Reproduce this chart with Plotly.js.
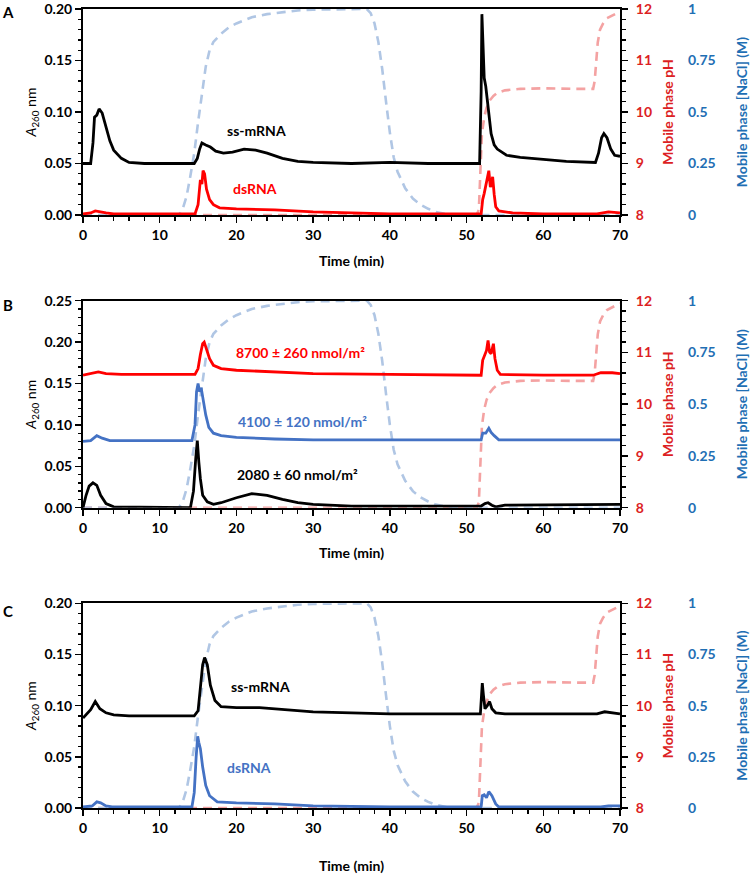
<!DOCTYPE html>
<html><head><meta charset="utf-8">
<script src="https://cdn.plot.ly/plotly-3.0.1.min.js"></script>
<style>body{margin:0;padding:0;background:#fff}#chart{width:750px;height:874px}</style>
</head><body><div id="chart"></div>
<script>
// ---- gradient programs (shared by the three runs) ----
const naclTime = [0, 12.5, 13.0, 13.5, 14.0, 14.5, 15.0, 15.5, 16.0, 16.5, 17.0, 18.0, 19.0, 20.0, 22.0, 24.0, 26.0, 28.0, 30.0, 34.0, 37.0, 37.5, 38.0, 38.5, 39.0, 39.5, 40.0, 40.5, 41.0, 42.0, 43.0, 44.0, 45.0, 46.0, 47.0, 48.0, 70];
const naclConc = [0, 0, 0.03, 0.09, 0.19, 0.30, 0.45, 0.58, 0.72, 0.80, 0.84, 0.88, 0.91, 0.93, 0.96, 0.975, 0.985, 0.993, 0.997, 1.0, 1.0, 0.98, 0.93, 0.84, 0.71, 0.55, 0.40, 0.28, 0.21, 0.13, 0.08, 0.05, 0.03, 0.015, 0.006, 0.0, 0.0];
const phTime = [0, 51.3, 51.6, 51.8, 52.0, 52.3, 52.6, 53.0, 53.5, 54.0, 55.0, 57.0, 60.0, 64.0, 66.5, 66.7, 66.9, 67.1, 67.4, 67.8, 68.3, 69.0, 70.0];
const phValue = [8, 8, 8.1, 8.8, 9.58, 9.9, 10.08, 10.22, 10.31, 10.37, 10.42, 10.45, 10.46, 10.45, 10.45, 10.6, 11.0, 11.35, 11.6, 11.72, 11.82, 11.88, 11.95];

// ---- Panel A ----
const aSsTime = [0, 1.0, 1.3, 1.5, 1.8, 2.1, 2.5, 3.0, 3.5, 4.0, 5.0, 6.0, 8.0, 14.5, 14.9, 15.2, 15.5, 16.0, 16.6, 17.3, 18.3, 19.5, 21.0, 22.5, 24.0, 26.0, 28.0, 30.0, 35.0, 40.0, 45.0, 51.7, 51.9, 52.0, 52.15, 52.3, 52.5, 52.8, 53.2, 53.6, 54.0, 55.2, 57.0, 60.0, 63.0, 66.8, 67.2, 67.6, 67.9, 68.3, 68.8, 69.3, 70.0];
const aSsA260 = [0.050, 0.050, 0.070, 0.095, 0.097, 0.103, 0.099, 0.085, 0.072, 0.063, 0.055, 0.051, 0.050, 0.050, 0.055, 0.064, 0.070, 0.068, 0.066, 0.062, 0.060, 0.061, 0.064, 0.063, 0.060, 0.055, 0.052, 0.051, 0.050, 0.051, 0.050, 0.050, 0.120, 0.195, 0.160, 0.133, 0.125, 0.107, 0.079, 0.068, 0.064, 0.058, 0.056, 0.054, 0.052, 0.051, 0.060, 0.075, 0.079, 0.075, 0.064, 0.058, 0.057];
const aDsTime = [0, 1.0, 1.6, 2.2, 3.0, 4.0, 14.6, 15.0, 15.3, 15.5, 15.65, 15.85, 16.1, 16.5, 17.0, 17.8, 20.0, 25.0, 30.0, 35.0, 40.0, 51.9, 52.1, 52.3, 52.6, 52.9, 53.1, 53.4, 53.6, 53.8, 54.2, 56.0, 60.0, 67.0, 68.5, 70.0];
const aDsA260 = [0.001, 0.002, 0.004, 0.003, 0.002, 0.001, 0.001, 0.010, 0.034, 0.030, 0.043, 0.040, 0.025, 0.015, 0.010, 0.007, 0.006, 0.005, 0.003, 0.002, 0.001, 0.001, 0.015, 0.021, 0.031, 0.043, 0.027, 0.037, 0.020, 0.008, 0.004, 0.002, 0.001, 0.001, 0.003, 0.002];

// ---- Panel B ----
const bHighTime = [0, 1.0, 2.0, 3.0, 5.0, 14.6, 15.0, 15.3, 15.6, 15.8, 16.1, 16.5, 17.0, 18.0, 20.0, 25.0, 30.0, 40.0, 51.9, 52.1, 52.3, 52.6, 52.8, 53.0, 53.2, 53.5, 53.7, 54.0, 54.4, 60.0, 66.5, 67.5, 69.0, 70.0];
const bHighA260 = [0.160, 0.162, 0.164, 0.162, 0.161, 0.161, 0.168, 0.185, 0.198, 0.200, 0.192, 0.180, 0.172, 0.168, 0.166, 0.164, 0.162, 0.161, 0.160, 0.178, 0.182, 0.190, 0.202, 0.188, 0.186, 0.198, 0.180, 0.166, 0.161, 0.160, 0.160, 0.163, 0.163, 0.162];
const bMidTime = [0, 1.0, 1.8, 2.5, 3.5, 14.2, 14.6, 14.8, 15.0, 15.2, 15.4, 15.7, 16.0, 16.4, 17.0, 18.0, 20.0, 25.0, 30.0, 40.0, 51.9, 52.1, 52.5, 52.9, 53.2, 53.6, 54.2, 60.0, 70.0];
const bMidA260 = [0.080, 0.081, 0.087, 0.084, 0.081, 0.081, 0.100, 0.140, 0.150, 0.140, 0.145, 0.130, 0.112, 0.097, 0.090, 0.087, 0.085, 0.083, 0.082, 0.082, 0.082, 0.090, 0.090, 0.096, 0.091, 0.087, 0.082, 0.082, 0.082];
const bLowTime = [0, 0.4, 0.8, 1.3, 1.8, 2.3, 3.0, 4.0, 14.0, 14.4, 14.7, 14.9, 15.1, 15.3, 15.6, 16.2, 17.0, 18.0, 20.0, 22.0, 24.0, 26.0, 28.0, 30.0, 35.0, 51.9, 52.4, 52.8, 53.3, 53.8, 55.0, 70.0];
const bLowA260 = [0.000, 0.015, 0.026, 0.030, 0.027, 0.015, 0.005, 0.001, 0.000, 0.020, 0.060, 0.081, 0.055, 0.035, 0.015, 0.007, 0.004, 0.006, 0.012, 0.017, 0.015, 0.010, 0.006, 0.004, 0.002, 0.002, 0.005, 0.006, 0.003, 0.001, 0.003, 0.004];

// ---- Panel C ----
const cSsTime = [0, 0.5, 1.0, 1.6, 2.2, 3.0, 4.0, 6.0, 14.5, 15.0, 15.3, 15.6, 15.85, 16.2, 16.6, 17.2, 18.0, 20.0, 23.0, 26.0, 30.0, 35.0, 40.0, 51.8, 51.95, 52.05, 52.2, 52.4, 52.7, 53.0, 53.3, 53.8, 55.0, 60.0, 67.0, 68.0, 69.0, 70.0];
const cSsA260 = [0.088, 0.092, 0.096, 0.104, 0.097, 0.093, 0.091, 0.090, 0.090, 0.095, 0.115, 0.140, 0.147, 0.140, 0.120, 0.105, 0.099, 0.098, 0.098, 0.096, 0.094, 0.093, 0.092, 0.092, 0.110, 0.122, 0.110, 0.097, 0.100, 0.104, 0.097, 0.093, 0.092, 0.092, 0.092, 0.094, 0.093, 0.092];
const cDsTime = [0, 1.2, 1.8, 2.3, 3.0, 3.8, 14.2, 14.5, 14.75, 14.95, 15.1, 15.3, 15.6, 16.0, 16.5, 17.5, 20.0, 25.0, 30.0, 40.0, 51.9, 52.05, 52.3, 52.6, 52.9, 53.3, 53.8, 54.2, 60.0, 67.5, 68.5, 70.0];
const cDsA260 = [0.001, 0.002, 0.006, 0.005, 0.002, 0.001, 0.001, 0.015, 0.050, 0.070, 0.064, 0.058, 0.040, 0.022, 0.012, 0.006, 0.005, 0.004, 0.002, 0.001, 0.001, 0.012, 0.013, 0.010, 0.016, 0.012, 0.004, 0.001, 0.001, 0.001, 0.002, 0.002];

// ---- labels ----
const panelLetters = ['A', 'B', 'C'];
const xTitle = 'Time (min)';
const a260Title = '<i>A</i><sub>260</sub> nm';
const phTitle = 'Mobile phase pH';
const naclTitle = 'Mobile phase [NaCl] (M)';
const naclTickVals = [0, 0.25, 0.5, 0.75, 1];
const naclTickText = ['0', '0.25', '0.5', '0.75', '1'];
const a260Ranges = [[0, 0.2], [0, 0.25], [0, 0.2]];

// ---- style ----
const FONT = 'Lato, "Open Sans", sans-serif';
const C_BLACK = '#000000', C_RED = '#ff0000', C_BLUE = '#4472c4';
const C_PH_TXT = '#dc1f24', C_NACL_TXT = '#1f6fb4';
const C_NACL_DASH = '#b0c6e4', C_PH_DASH = '#f4a2a2';
const TICK_SZ = 14;

const W = 750, H = 874;
const M = {l: 83, r: 10, t: 9, b: 66};
const PW = W - M.l - M.r, PH = H - M.t - M.b;
const plotRightPx = 620;
const DX = (plotRightPx - M.l) / PW;
const naclPos = (687 - M.l) / PW;
// panel vertical pixel extents (top, bottom)
const panelPx = [[9, 215], [300.7, 507.7], [603.3, 808]];
const yd = ([top, bot]) => [(H - M.b - bot) / PH, (H - M.b - top) / PH];

const bold = (sz, col) => ({family: FONT, size: sz, color: col, weight: 'bold'});

const layout = {
  width: W, height: H, margin: M, showlegend: false,
  paper_bgcolor: '#fff', plot_bgcolor: '#fff',
  annotations: [], font: {family: FONT}
};
const data = [];

const lineTrace = (x, y, xa, ya, color, dash, width) => ({
  x, y, xaxis: xa, yaxis: ya, type: 'scatter', mode: 'lines', hoverinfo: 'skip',
  line: {color, width: width || 2.8, dash: dash || 'solid', shape: 'linear'}
});

const xStand = [14, 14, 26];
const letterTop = [1, 294, 600];

for (let k = 0; k < 3; k++) {
  const xid = k === 0 ? 'x' : 'x' + (k + 1);
  const phN = 3 * k + 1, naN = 3 * k + 2, aN = 3 * k + 3;
  const phId = phN === 1 ? 'y' : 'y' + phN, naId = 'y' + naN, aId = 'y' + aN;
  const dom = yd(panelPx[k]);

  layout[k === 0 ? 'xaxis' : 'xaxis' + (k + 1)] = {
    domain: [0, DX], anchor: phId, range: [0, 70], tick0: 0, dtick: 10,
    ticks: 'outside', ticklen: 6, tickwidth: 1.5, tickcolor: C_BLACK,
    minor: {tick0: 0, dtick: 2, ticks: 'outside', ticklen: 4, tickwidth: 1.3, tickcolor: C_BLACK},
    showline: true, linecolor: C_BLACK, linewidth: 2, mirror: true,
    showgrid: false, zeroline: false, fixedrange: true, ticklabeloverflow: 'allow',
    tickfont: bold(TICK_SZ, C_BLACK),
    title: {text: xTitle, font: bold(14, C_BLACK), standoff: xStand[k]}
  };
  layout[phN === 1 ? 'yaxis' : 'yaxis' + phN] = {
    domain: dom, anchor: xid, side: 'right', range: [8, 12], tick0: 8, dtick: 1,
    ticks: 'outside', ticklen: 6, tickwidth: 1.5, tickcolor: C_BLACK,
    minor: {tick0: 8, dtick: 0.2, ticks: 'outside', ticklen: 4, tickwidth: 1.3, tickcolor: C_BLACK},
    showline: true, linecolor: C_BLACK, linewidth: 2,
    showgrid: false, zeroline: false, fixedrange: true, ticklabeloverflow: 'allow',
    ticklabelstandoff: 5,
    tickfont: bold(TICK_SZ, C_PH_TXT),
    title: {text: phTitle, font: bold(14, C_PH_TXT), standoff: 12}
  };
  layout['yaxis' + naN] = {
    overlaying: phId, anchor: 'free', position: naclPos, side: 'right',
    range: [0, 1], tickmode: 'array', tickvals: naclTickVals, ticktext: naclTickText,
    ticks: '', showline: false, showgrid: false, zeroline: false, fixedrange: true,
    ticklabeloverflow: 'allow',
    tickfont: bold(TICK_SZ, C_NACL_TXT),
    title: {text: naclTitle, font: bold(14, C_NACL_TXT), standoff: 25}
  };
  layout['yaxis' + aN] = {
    overlaying: phId, anchor: xid, side: 'left', range: a260Ranges[k], tick0: 0, dtick: 0.05,
    tickformat: '.2f',
    ticks: 'outside', ticklen: 6, tickwidth: 1.5, tickcolor: C_BLACK,
    minor: {tick0: 0, dtick: 0.01, ticks: 'outside', ticklen: 3.5, tickwidth: 1.3, tickcolor: C_BLACK},
    showline: true, linecolor: C_BLACK, linewidth: 2,
    showgrid: false, zeroline: false, fixedrange: true, ticklabeloverflow: 'allow',
    tickfont: bold(TICK_SZ, C_BLACK),
    title: {text: a260Title, font: {family: FONT, size: 14, color: C_BLACK}, standoff: 5}
  };

  // gradients (drawn first / underneath)
  data.push(lineTrace(phTime, phValue, xid, phId, C_PH_DASH, '9px,6px', 2.6));
  data.push(lineTrace(naclTime, naclConc, xid, naId, C_NACL_DASH, '9px,6px', 2.6));

  layout.annotations.push({
    xref: 'paper', yref: 'paper', x: (8 - M.l) / PW,
    y: (H - M.b - letterTop[k]) / PH,
    xanchor: 'center', yanchor: 'top', showarrow: false,
    text: panelLetters[k], font: bold(15, C_BLACK)
  });
}

// A260 traces
data.push(lineTrace(aSsTime, aSsA260, 'x', 'y3', C_BLACK));
data.push(lineTrace(aDsTime, aDsA260, 'x', 'y3', C_RED));
data.push(lineTrace(bHighTime, bHighA260, 'x2', 'y6', C_RED));
data.push(lineTrace(bMidTime, bMidA260, 'x2', 'y6', C_BLUE));
data.push(lineTrace(bLowTime, bLowA260, 'x2', 'y6', C_BLACK));
data.push(lineTrace(cSsTime, cSsA260, 'x3', 'y9', C_BLACK));
data.push(lineTrace(cDsTime, cDsA260, 'x3', 'y9', C_BLUE));

const lab = (xa, ya, x, y, text, col) => ({
  xref: xa, yref: ya, x, y, text, showarrow: false, xanchor: 'center', yanchor: 'middle',
  font: bold(14, col)
});
layout.annotations.push(
  lab('x', 'y3', 22.6, 0.0817, 'ss-mRNA', C_BLACK),
  lab('x', 'y3', 22.4, 0.026, 'dsRNA', C_RED),
  lab('x2', 'y6', 28.4, 0.188, '8700 ± 260 nmol/m²', C_RED),
  lab('x2', 'y6', 28.6, 0.104, '4100 ± 120 nmol/m²', C_BLUE),
  lab('x2', 'y6', 27.9, 0.040, '2080 ± 60 nmol/m²', C_BLACK),
  lab('x3', 'y9', 23.2, 0.1185, 'ss-mRNA', C_BLACK),
  lab('x3', 'y9', 21.6, 0.040, 'dsRNA', C_BLUE)
);

Plotly.newPlot('chart', data, layout, {staticPlot: true, displayModeBar: false});
</script></body></html>
